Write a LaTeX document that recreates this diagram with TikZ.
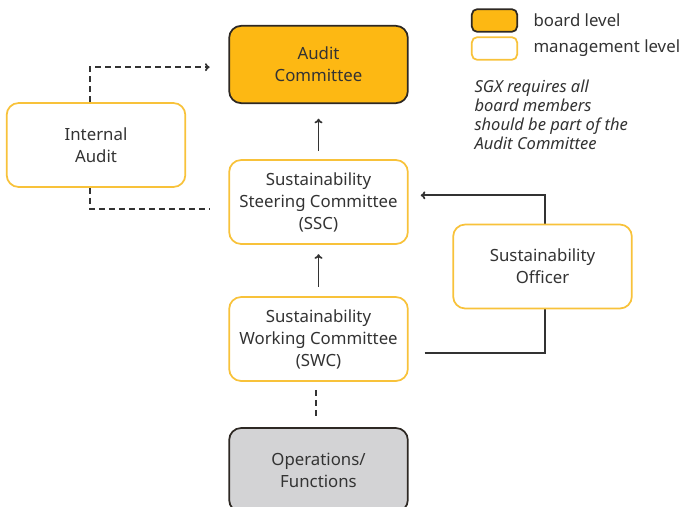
\documentclass[tikz,border=0pt]{standalone}
\usepackage{fontspec}
\setmainfont{Noto Sans}
\usetikzlibrary{backgrounds,arrows.meta}
\definecolor{boardfill}{RGB}{253,184,19}
\definecolor{boardline}{RGB}{45,40,35}
\definecolor{mgmtline}{RGB}{248,194,58}
\definecolor{opsfill}{RGB}{211,211,213}
\definecolor{inktext}{RGB}{51,51,51}
\tikzset{every picture/.style={line width=0.75pt}}
\tikzset{
  unitbox/.style={rounded corners=9pt, line width=1.3pt, align=center, text=inktext,
    minimum width=134pt, minimum height=63pt, inner sep=0pt,
    font=\fontsize{12.6}{16.5}\selectfont},
  boardbox/.style={unitbox, draw=boardline, fill=boardfill},
  mgmtbox/.style={unitbox, draw=mgmtline, fill=white},
  opsbox/.style={unitbox, draw=boardline, fill=opsfill},
  link/.style={draw=inktext, line width=1.3pt, >={To[length=3.5pt,width=6pt]}},
  dashlink/.style={link, dashed, dash pattern=on 4.5pt off 3pt},
  keytext/.style={anchor=west, inner sep=0pt, text=inktext, font=\fontsize{12.6}{14}\selectfont}
}
\begin{document}
\begin{tikzpicture}[x=0.75pt,y=0.75pt,yscale=-1,xscale=1]
\clip (0,0) rectangle (680,506);

% Boxes
\node [boardbox, minimum height=58pt] (ac) at (318.5,64.5) {Audit\\Committee};
\node [mgmtbox] (ia) at (96,145) {Internal\\Audit};
\node [mgmtbox] (ssc) at (318.5,202) {Sustainability\\Steering Committee\\(SSC)};
\node [mgmtbox] (so) at (542.5,266.5) {Sustainability\\Officer};
\node [mgmtbox] (swc) at (318.5,339) {Sustainability\\Working Committee\\(SWC)};
\node [opsbox] (ops) at (318.5,470) {Operations/\\Functions};

% Legend
\node [boardbox, minimum width=34pt, minimum height=17pt, rounded corners=4pt] (kb) at (494.5,20.5) {};
\node [mgmtbox, minimum width=34pt, minimum height=17pt, rounded corners=4pt] (km) at (494.5,48.5) {};
\node [keytext] (kbt) at (533,20.5) {board level};
\node [keytext] (kmt) at (533,48) {management level};
\node [anchor=north west, inner sep=0pt, align=left, text=inktext,
  font=\fontsize{12.4}{14.3}\selectfont\itshape] (note) at (474,79)
  {SGX requires all\\board members\\should be part of the\\Audit Committee};

% Connectors
\begin{pgfonlayer}{background}
\draw [link, ->, shorten <=6pt, shorten >=11pt] (ssc.north) -- (ac.south);
\draw [link, ->, shorten <=7pt, shorten >=7pt] (swc.north) -- (ssc.south);
\draw [dashlink, shorten <=6pt, shorten >=6pt] ([xshift=-2pt]swc.south) -- ([xshift=-2pt]ops.north);
\draw [dashlink, ->] ([xshift=-4.5pt]ia.north) |- ([xshift=-14pt,yshift=2pt]ac.west);
\draw [dashlink] ([xshift=-4.5pt]ia.south) |- ([xshift=-14pt,yshift=5pt]ssc.west);
\draw [link, ->] ([xshift=12pt,yshift=10.5pt]swc.east) -| ([xshift=2pt]so.center) |- ([xshift=9pt,yshift=-5pt]ssc.east);
\end{pgfonlayer}

\end{tikzpicture}
\end{document}
